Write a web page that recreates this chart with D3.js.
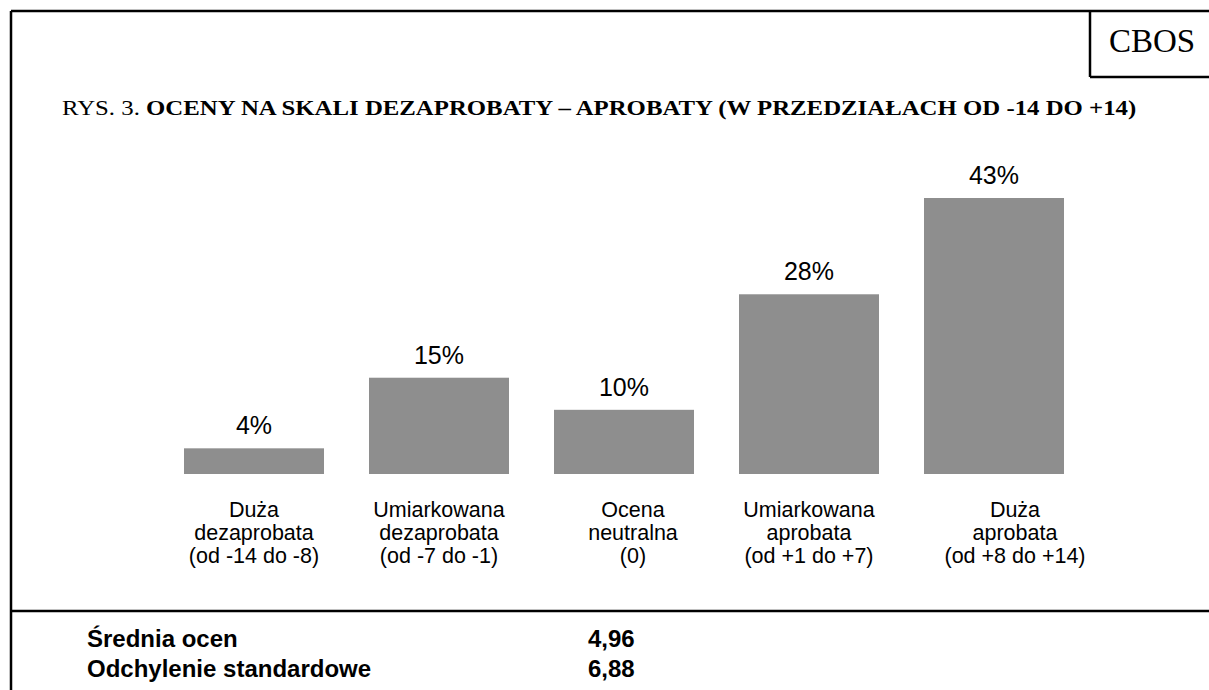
<!DOCTYPE html>
<html>
<head>
<meta charset="utf-8">
<script src="https://cdn.jsdelivr.net/npm/d3@7"></script>
<style>
  html, body { margin: 0; padding: 0; background: #fff; }
  svg { display: block; }
</style>
</head>
<body>
<svg id="chart" width="1209" height="690"></svg>
<script>
// ---- data ----
const categories = [
  ["Duża", "dezaprobata", "(od -14 do -8)"],
  ["Umiarkowana", "dezaprobata", "(od -7 do -1)"],
  ["Ocena", "neutralna", "(0)"],
  ["Umiarkowana", "aprobata", "(od +1 do +7)"],
  ["Duża", "aprobata", "(od +8 do +14)"]
];
const values = [4, 15, 10, 28, 43];
const statLabels = ["Średnia ocen", "Odchylenie standardowe"];
const statValues = ["4,96", "6,88"];
const titlePrefix = "RYS. 3. ";
const titleBold = "OCENY NA SKALI DEZAPROBATY – APROBATY (W PRZEDZIAŁACH OD -14 DO +14)";
const sourceLabel = "CBOS";

// ---- drawing ----
const svg = d3.select("#chart");
const W = 1209, H = 690;

// frame
const frame = svg.append("g").attr("stroke", "#000").attr("stroke-width", 2.5).attr("fill", "none");
frame.append("line").attr("x1", 11).attr("y1", 11).attr("x2", W).attr("y2", 11);
frame.append("line").attr("x1", 11).attr("y1", 11).attr("x2", 11).attr("y2", H);
frame.append("line").attr("x1", 11).attr("y1", 611).attr("x2", W).attr("y2", 611);
// CBOS box
frame.append("line").attr("x1", 1090).attr("y1", 11).attr("x2", 1090).attr("y2", 77);
frame.append("line").attr("x1", 1090).attr("y1", 77).attr("x2", W).attr("y2", 77);

svg.append("text")
  .attr("x", 1152).attr("y", 52)
  .attr("text-anchor", "middle")
  .attr("font-family", "'Liberation Serif', 'Times New Roman', serif")
  .attr("font-size", 33)
  .text(sourceLabel);

// title (stretched horizontally like the reference)
const title = svg.append("text")
  .attr("x", 62).attr("y", 115)
  .attr("font-family", "'Liberation Serif', 'Times New Roman', serif")
  .attr("font-size", 21);
title.append("tspan").text(titlePrefix);
title.append("tspan").attr("font-weight", "bold").text(titleBold);
{
  const w = title.node().getComputedTextLength();
  const s = 1075 / w;
  title.attr("transform", `translate(62,0) scale(${s},1) translate(-62,0)`);
}

// scales
const x = d3.scaleBand()
  .domain(d3.range(values.length))
  .range([184, 1064])
  .paddingInner(45 / 185)
  .paddingOuter(0);

const y = d3.scaleLinear()
  .domain([0, 43])
  .range([474, 198]);

// bars
svg.append("g").selectAll("rect")
  .data(values)
  .join("rect")
  .attr("x", (d, i) => x(i))
  .attr("y", d => y(d))
  .attr("width", x.bandwidth())
  .attr("height", d => y(0) - y(d))
  .attr("fill", "#8e8e8e");

// value labels
svg.append("g").selectAll("text")
  .data(values)
  .join("text")
  .attr("x", (d, i) => x(i) + x.bandwidth() / 2)
  .attr("y", d => y(d) - 14)
  .attr("text-anchor", "middle")
  .attr("font-family", "'Liberation Sans', Arial, sans-serif")
  .attr("font-size", 25)
  .attr("fill", "#000")
  .text(d => d + "%");

// category labels (the original layout nudges some labels to the right)
const labelNudge = [0, 0, 9, 0, 21];
const cat = svg.append("g").selectAll("text")
  .data(categories)
  .join("text")
  .attr("text-anchor", "middle")
  .attr("font-family", "'Liberation Sans', Arial, sans-serif")
  .attr("font-size", 21.5)
  .attr("fill", "#000");
cat.each(function(lines, i) {
  const t = d3.select(this);
  lines.forEach((ln, j) => {
    t.append("tspan")
      .attr("x", x(i) + x.bandwidth() / 2 + labelNudge[i])
      .attr("y", 517 + j * 23)
      .text(ln);
  });
});

// stats
const stats = svg.append("g")
  .attr("font-family", "'Liberation Sans', Arial, sans-serif")
  .attr("font-size", 24)
  .attr("font-weight", "bold")
  .attr("fill", "#000");
statLabels.forEach((lab, i) => {
  stats.append("text").attr("x", 87).attr("y", 647 + i * 30).text(lab);
  stats.append("text").attr("x", 588).attr("y", 647 + i * 30).text(statValues[i]);
});
</script>
</body>
</html>
